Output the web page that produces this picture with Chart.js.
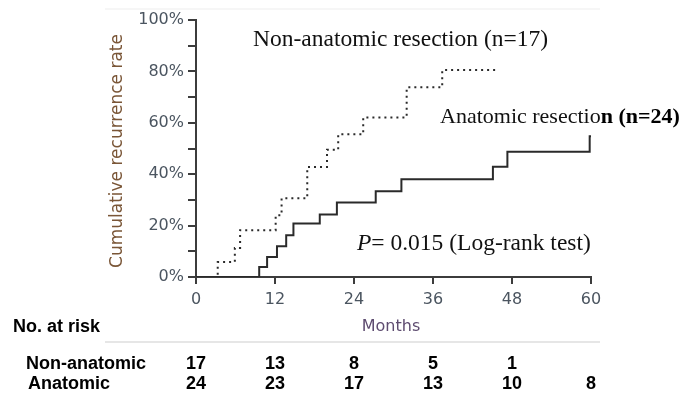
<!DOCTYPE html>
<html>
<head>
<meta charset="utf-8">
<script src="https://cdn.jsdelivr.net/npm/chart.js@4/dist/chart.umd.min.js"></script>
<style>
  html, body { margin: 0; padding: 0; background: #fff; }
  #wrap { position: relative; width: 691px; height: 396px; }
</style>
</head>
<body>
<div id="wrap"><canvas id="km"></canvas></div>
<script>
'use strict';

// months at which each curve steps, and the cumulative rate (%) after the step
var nonAnatomicMonths = [0, 3.3, 5.9, 6.7, 12.1, 13.0, 16.9, 19.9, 21.6, 25.4, 32.0, 37.4, 45.7];
var nonAnatomicRates = [0, 5.8, 11.3, 18.2, 24.0, 30.6, 42.8, 49.5, 55.5, 62.1, 73.8, 80.5, 80.5];
var anatomicMonths = [0, 9.6, 10.8, 12.3, 13.7, 14.8, 18.8, 21.4, 27.3, 31.2, 45.1, 47.3, 59.8, 60];
var anatomicRates = [0, 3.9, 7.8, 12.0, 16.2, 20.8, 24.3, 29.0, 33.4, 38.0, 42.9, 48.7, 54.8, 54.8];

// number at risk table
var riskMonths = [0, 12, 24, 36, 48, 60];
var riskNonAnatomic = [17, 13, 8, 5, 1, null];
var riskAnatomic = [24, 23, 17, 13, 10, 8];

var xTicks = [0, 12, 24, 36, 48, 60];
var yLabelTicks = [0, 20, 40, 60, 80, 100];

function toPoints(xs, ys){
  var pts = [];
  for(var i=0; i<xs.length; i++){
    pts.push({x: xs[i], y: ys[i]});
  }
  return pts;
}

var axisColor = '#3c3c3c';
var tickColor = '#4b5560';

// draws the annotations, y title and the table below the chart
var textPlugin = {
  id: 'kmText',
  afterDraw: function(chart){
    var ctx = chart.ctx;
    var xs = chart.scales.x;
    ctx.save();

    // faint scan lines of the original picture
    ctx.strokeStyle = '#f6f6f6';
    ctx.lineWidth = 2;
    ctx.beginPath(); ctx.moveTo(105, 9); ctx.lineTo(600, 9); ctx.stroke();
    ctx.strokeStyle = '#e6e6e6';
    ctx.beginPath(); ctx.moveTo(105, 342); ctx.lineTo(600, 342); ctx.stroke();

    // y axis title
    ctx.save();
    ctx.translate(118, 151);
    ctx.rotate(-Math.PI/2);
    ctx.fillStyle = '#7a5637';
    ctx.font = '17px "DejaVu Sans"';
    ctx.textAlign = 'center';
    ctx.textBaseline = 'middle';
    ctx.fillText('Cumulative recurrence rate', 0, 0);
    ctx.restore();

    // x axis title
    ctx.fillStyle = '#5e4c70';
    ctx.font = '16px "DejaVu Sans"';
    ctx.textAlign = 'center';
    ctx.textBaseline = 'middle';
    ctx.fillText('Months', 391, 327);

    // curve labels
    ctx.fillStyle = '#111';
    ctx.textAlign = 'left';
    ctx.font = '23.5px "Liberation Serif"';
    ctx.fillText('Non-anatomic resection (n=17)', 253, 40);

    var part1 = 'Anatomic resectio';
    ctx.font = '22px "Liberation Serif"';
    ctx.fillText(part1, 440, 117);
    var w1 = ctx.measureText(part1).width;
    ctx.font = 'bold 22px "Liberation Serif"';
    ctx.fillStyle = '#000';
    ctx.fillText('n (n=24)', 440 + w1, 117);

    ctx.fillStyle = '#111';
    ctx.font = 'italic 23.5px "Liberation Serif"';
    ctx.fillText('P', 357, 244);
    var wp = ctx.measureText('P').width;
    ctx.font = '23.5px "Liberation Serif"';
    ctx.fillText('= 0.015 (Log-rank test)', 357 + wp, 244);

    // number at risk
    ctx.fillStyle = '#000';
    ctx.font = 'bold 18px "Liberation Sans"';
    ctx.textAlign = 'left';
    ctx.fillText('No. at risk', 13, 327);
    ctx.fillText('Non-anatomic', 26, 364);
    ctx.fillText('Anatomic', 28, 384);
    ctx.textAlign = 'center';
    for(var i=0; i<riskMonths.length; i++){
      var px = xs.getPixelForValue(riskMonths[i]);
      if(riskNonAnatomic[i] !== null){
        ctx.fillText(String(riskNonAnatomic[i]), px, 364);
      }
      ctx.fillText(String(riskAnatomic[i]), px, 384);
    }
    ctx.restore();
  }
};

var ctx = document.getElementById('km').getContext('2d');
var chart = new Chart(ctx, {
  type: 'line',
  data: {
    datasets: [{
      label: 'Non-anatomic resection',
      data: toPoints(nonAnatomicMonths, nonAnatomicRates),
      borderColor: '#2a2a2a',
      borderWidth: 2,
      borderDash: [2, 4],
      stepped: 'before',
      pointRadius: 0,
      fill: false
    },
    {
      label: 'Anatomic resection',
      data: toPoints(anatomicMonths, anatomicRates),
      borderColor: '#2a2a2a',
      borderWidth: 2,
      stepped: 'before',
      pointRadius: 0,
      fill: false
    }]
  },
  options: {
    responsive: true,
    maintainAspectRatio: false,
    animation: false,
    layout: { padding: { left: 0, right: 100, top: 20, bottom: 0 } },
    plugins: {
      legend: { display: false },
      tooltip: { enabled: false }
    },
    scales: {
      x: {
        type: 'linear',
        min: 0,
        max: 60,
        afterFit: function(scale){ scale.height = 119; },
        afterBuildTicks: function(scale){
          scale.ticks = xTicks.map(function(v){ return {value: v}; });
        },
        border: { display: true, color: axisColor, width: 2 },
        grid: { drawOnChartArea: false, drawTicks: true, tickLength: 7, color: axisColor, lineWidth: 2 },
        ticks: { color: tickColor, font: { family: 'DejaVu Sans', size: 16 }, padding: 6, maxRotation: 0 }
      },
      y: {
        min: 0,
        max: 100,
        afterFit: function(scale){ scale.width = 196; },
        border: { display: true, color: axisColor, width: 2 },
        grid: { drawOnChartArea: false, drawTicks: true, tickLength: 8, color: axisColor, lineWidth: 2 },
        ticks: {
          stepSize: 10,
          color: tickColor,
          font: { family: 'DejaVu Sans', size: 16 },
          padding: 4,
          autoSkip: false,
          callback: function(v){ return yLabelTicks.indexOf(v) >= 0 ? v + '%' : ''; }
        }
      }
    }
  },
  plugins: [textPlugin]
});
</script>
</body>
</html>
